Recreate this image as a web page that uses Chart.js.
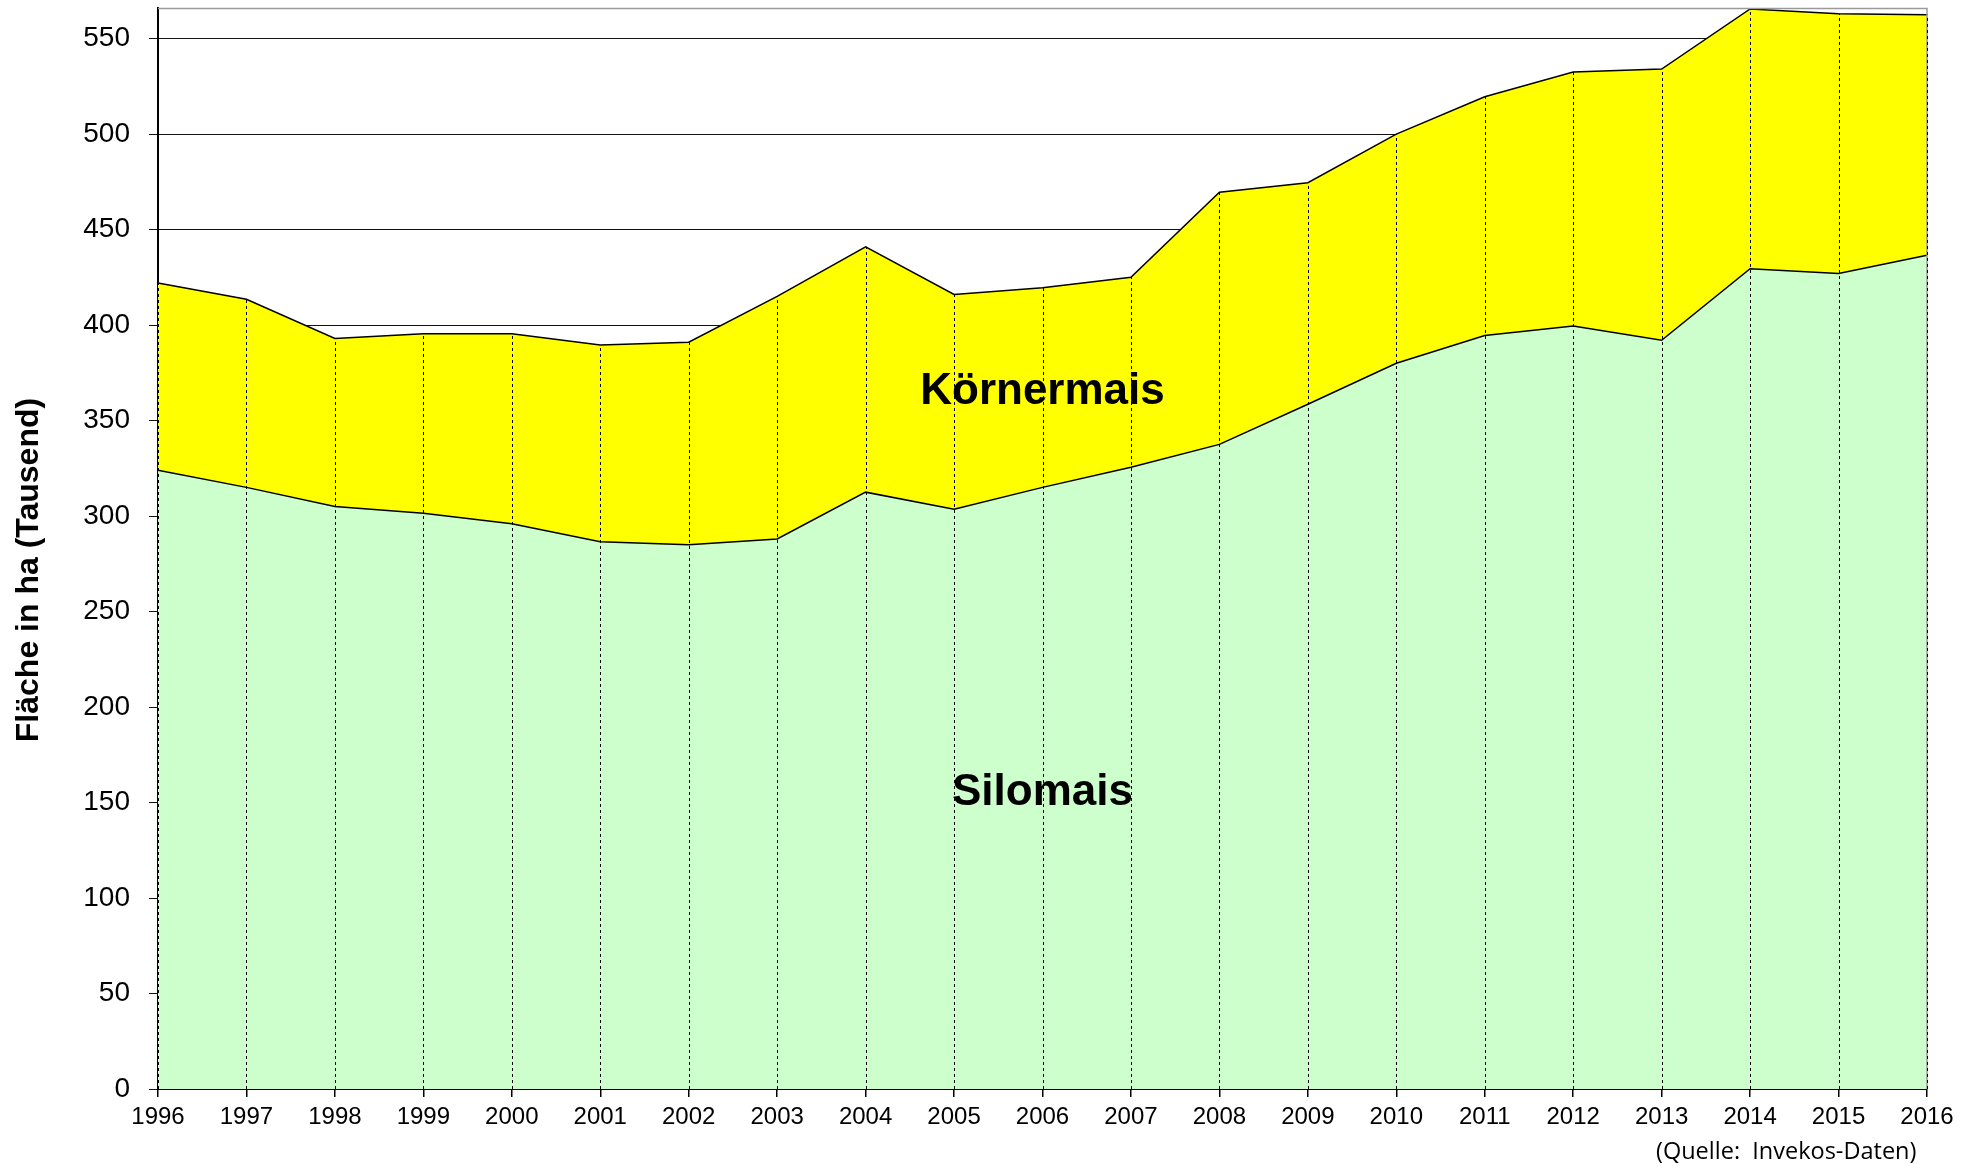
<!DOCTYPE html>
<html>
<head>
<meta charset="utf-8">
<script src="https://cdn.jsdelivr.net/npm/chart.js@4.4.0/dist/chart.umd.min.js"></script>
<style>
html,body{margin:0;padding:0;background:#fff;}
#wrap{position:relative;width:1979px;height:1164px;}
#source{position:absolute;left:1656px;top:1137px;font-family:"Open Sans","Noto Sans",sans-serif;font-size:23.5px;line-height:26px;color:#000;white-space:pre;}
</style>
</head>
<body>
<div id="wrap">
<canvas id="c" width="1979" height="1164"></canvas>
<div id="source">(Quelle:  Invekos-Daten)</div>
</div>
<script>
const years = ["1996","1997","1998","1999","2000","2001","2002","2003","2004","2005","2006","2007","2008","2009","2010","2011","2012","2013","2014","2015","2016"];
const silomais = [324, 315, 305, 301.5, 296, 286.5, 285, 288, 312.5, 303.5, 315, 325.5, 337.5, 358.5, 380, 394.5, 399.5, 392, 429.5, 427, 436.5];
const koernermais = [98, 98.5, 88, 94, 99.5, 103, 106, 127, 128.5, 112.5, 104.5, 99.5, 132, 116, 120, 125, 133, 142, 136, 136, 126];
const yTickValues = [0, 50, 100, 150, 200, 250, 300, 350, 400, 450, 500, 550];
const yMax = 566;
const seriesNames = ["Silomais", "Körnermais"];
const axisTitle = "Fläche in ha (Tausend)";

const FONT = "'Liberation Sans', Arial, sans-serif";

const overlay = {
  id: 'overlay',
  afterDatasetsDraw(chart) {
    const ctx = chart.ctx;
    const a = chart.chartArea;
    const x = chart.scales.x, y = chart.scales.y;
    const topPts = chart.getDatasetMeta(1).data;
    ctx.save();
    ctx.strokeStyle = '#9a9a9a';
    ctx.lineWidth = 1.5;
    ctx.beginPath();
    ctx.moveTo(a.left, a.top + 0.5);
    ctx.lineTo(a.right, a.top + 0.5);
    ctx.lineTo(a.right, a.bottom);
    ctx.stroke();
    ctx.strokeStyle = '#000';
    ctx.lineWidth = 1;
    ctx.setLineDash([3, 3]);
    years.forEach((yr, i) => {
      const px = Math.round(x.getPixelForValue(i)) + 0.5;
      ctx.beginPath();
      ctx.moveTo(px, y.getPixelForValue(0));
      ctx.lineTo(px, topPts[i].y);
      ctx.stroke();
    });
    ctx.setLineDash([]);
    ctx.fillStyle = '#000';
    ctx.font = "bold 44px " + FONT;
    ctx.textAlign = 'center';
    ctx.textBaseline = 'middle';
    const cx = (a.left + a.right) / 2;
    ctx.fillText(seriesNames[1], cx, y.getPixelForValue(365));
    ctx.fillText(seriesNames[0], cx, y.getPixelForValue(155));
    ctx.translate(29, 570);
    ctx.rotate(-Math.PI / 2);
    ctx.font = "bold 32px " + FONT;
    ctx.fillText(axisTitle, 0, 0);
    ctx.restore();
  }
};

new Chart(document.getElementById('c'), {
  type: 'line',
  data: {
    labels: years,
    datasets: [
      {
        label: seriesNames[0],
        data: silomais,
        fill: 'origin',
        backgroundColor: '#CCFFCC',
        borderColor: '#000',
        borderWidth: 1.5,
        pointRadius: 0,
        tension: 0
      },
      {
        label: seriesNames[1],
        data: koernermais,
        fill: '-1',
        backgroundColor: '#FFFF00',
        borderColor: '#000',
        borderWidth: 1.5,
        pointRadius: 0,
        tension: 0
      }
    ]
  },
  options: {
    responsive: false,
    animation: false,
    devicePixelRatio: 1,
    layout: { padding: { top: 8, right: 52, left: 0, bottom: 0 } },
    plugins: { legend: { display: false }, tooltip: { enabled: false }, title: { display: false } },
    scales: {
      x: {
        offset: false,
        grid: { drawOnChartArea: false, drawTicks: true, tickLength: 8, color: '#000', lineWidth: 1.5 },
        border: { display: true, color: '#000', width: 2 },
        ticks: { autoSkip: false, maxRotation: 0, minRotation: 0, padding: 6, color: '#000', font: { family: FONT, size: 24 } },
        afterFit(scale) { scale.height = 75; scale.paddingLeft = 0; scale.paddingRight = 0; }
      },
      y: {
        stacked: true,
        min: 0,
        max: yMax,
        grid: { color: '#111', lineWidth: 1, tickLength: 9, drawTicks: true },
        border: { display: true, color: '#000', width: 2 },
        ticks: {
          stepSize: 50,
          includeBounds: false,
          padding: 19,
          color: '#000',
          font: { family: FONT, size: 28 },
          callback: (v) => yTickValues.includes(v) ? String(v) : ''
        },
        afterFit(scale) { scale.width = 158; scale.paddingTop = 0; scale.paddingBottom = 0; }
      }
    }
  },
  plugins: [overlay]
});
</script>
</body>
</html>
